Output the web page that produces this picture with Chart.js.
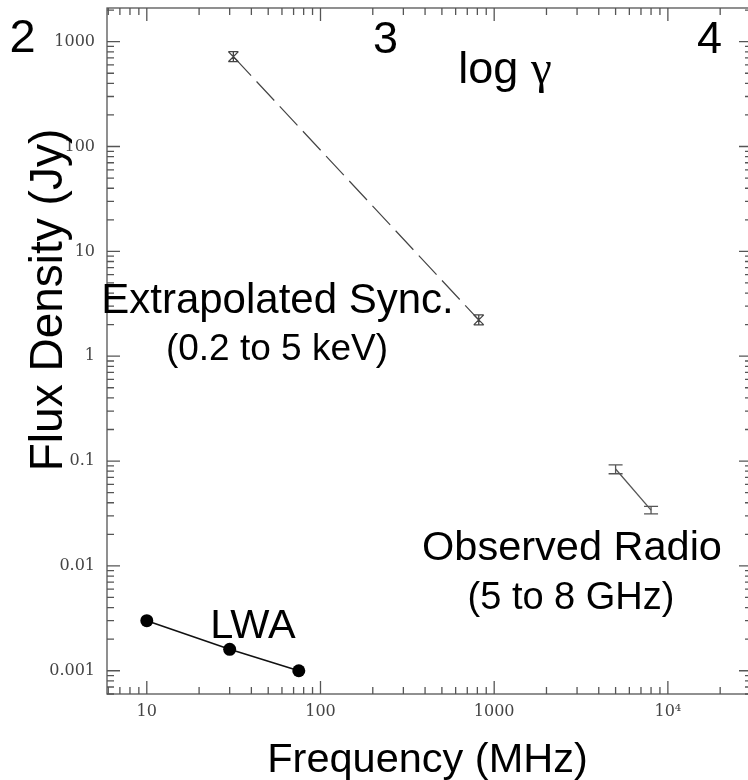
<!DOCTYPE html>
<html>
<head>
<meta charset="utf-8">
<script src="https://cdn.jsdelivr.net/npm/chart.js@4"></script>
<style>
  html, body { margin: 0; padding: 0; background: #fff; overflow: hidden; }
  #wrap { width: 748px; height: 780px; overflow: hidden; }
</style>
</head>
<body>
<div id="wrap"><canvas id="sed" width="760" height="780"></canvas></div>
<script>
// LWA (frequency MHz, flux Jy)
const lwaFreq = [10, 30, 75];
const lwaFlux = [0.003, 0.0016, 0.001];

// synchrotron extrapolated from 0.2-5 keV
const syncFreq = [31.5, 815];
const syncFlux = [720, 2.22];
const syncLow  = [644, 1.99];
const syncHigh = [803, 2.48];

// observed radio, 5-8 GHz
const radioFreq = [5000, 8000];
const radioFlux = [0.084, 0.034];
const radioLow  = [0.0757, 0.0313];
const radioHigh = [0.092, 0.0369];

const xTickValues = [10, 100, 1000, 10000];
const xTickLabels = ['10', '100', '1000', '10\u2074'];
const yTickValues = [0.001, 0.01, 0.1, 1, 10, 100, 1000];
const yTickLabels = ['0.001', '0.01', '0.1', '1', '10', '100', '1000'];

const xMin = 5.9, xMax = 30500;
const yMin = 0.000603, yMax = 2095;

const toXY = (xs, ys) => xs.map((x, i) => ({ x: x, y: ys[i] }));

// 1..9 x 10^n between min and max
function logTicks(min, max) {
  const out = [];
  for (let e = Math.floor(Math.log10(min)); e <= Math.ceil(Math.log10(max)); e++) {
    for (let k = 1; k <= 9; k++) {
      const v = +(k * Math.pow(10, e)).toPrecision(6);
      if (v >= min && v <= max) out.push({ value: v });
    }
  }
  return out;
}

function labelFor(v, values, labels) {
  const i = values.findIndex(t => Math.abs(v / t - 1) < 1e-6);
  return i < 0 ? '' : labels[i];
}

const isDecade = v => Math.abs(Math.log10(v) - Math.round(Math.log10(v))) < 1e-6;

// box with inward ticks on all four sides
const frame = {
  id: 'frame',
  beforeDatasetsDraw(chart) {
    const { ctx, chartArea: a, scales } = chart;
    ctx.save();
    ctx.strokeStyle = '#555';
    ctx.lineWidth = 1.3;
    ctx.strokeRect(a.left, a.top, a.right - a.left, a.bottom - a.top);
    ctx.beginPath();
    scales.x.ticks.forEach(t => {
      const px = scales.x.getPixelForValue(t.value);
      const len = isDecade(t.value) ? 13 : 7;
      ctx.moveTo(px, a.bottom); ctx.lineTo(px, a.bottom - len);
      ctx.moveTo(px, a.top); ctx.lineTo(px, a.top + len);
    });
    scales.y.ticks.forEach(t => {
      const py = scales.y.getPixelForValue(t.value);
      const len = isDecade(t.value) ? 13 : 7;
      ctx.moveTo(a.left, py); ctx.lineTo(a.left + len, py);
      ctx.moveTo(a.right, py); ctx.lineTo(a.right - len, py);
    });
    ctx.stroke();
    ctx.restore();
  }
};

function drawBars(ctx, xs, lo, hi, sx, sy, half, cross) {
  xs.forEach((f, i) => {
    const px = sx.getPixelForValue(f);
    const y1 = sy.getPixelForValue(lo[i]);
    const y2 = sy.getPixelForValue(hi[i]);
    ctx.beginPath();
    ctx.moveTo(px, y1); ctx.lineTo(px, y2);
    ctx.moveTo(px - half, y1); ctx.lineTo(px + half, y1);
    ctx.moveTo(px - half, y2); ctx.lineTo(px + half, y2);
    if (cross) {
      ctx.moveTo(px - half, y1); ctx.lineTo(px + half, y2);
      ctx.moveTo(px + half, y1); ctx.lineTo(px - half, y2);
    }
    ctx.stroke();
  });
}

const errorBars = {
  id: 'errorBars',
  afterDatasetsDraw(chart) {
    const { ctx, scales } = chart;
    ctx.save();
    ctx.lineWidth = 1.3;
    ctx.strokeStyle = '#444';
    drawBars(ctx, syncFreq, syncLow, syncHigh, scales.x, scales.y, 5, true);
    ctx.strokeStyle = '#555';
    drawBars(ctx, radioFreq, radioLow, radioHigh, scales.x, scales.y, 7, false);
    ctx.restore();
  }
};

const SANS = '"Liberation Sans", Arial, sans-serif';
const notes = [
  { text: '2', size: 47, x: 22.5, y: 52 },
  { text: '3', size: 45, x: 385.5, y: 53 },
  { text: '4', size: 45, x: 709.5, y: 53 },
  { text: 'Extrapolated Sync.', size: 42, x: 277.5, y: 313 },
  { text: '(0.2 to 5 keV)', size: 37, x: 277, y: 360 },
  { text: 'Observed Radio', size: 41.5, x: 572, y: 560 },
  { text: '(5 to 8 GHz)', size: 38, x: 571, y: 609 },
  { text: 'LWA', size: 41.5, x: 253, y: 638 },
  { text: 'Frequency (MHz)', size: 41.5, x: 427.5, y: 771.5 }
];

const annotations = {
  id: 'annotations',
  afterDraw(chart) {
    const ctx = chart.ctx;
    ctx.save();
    ctx.fillStyle = '#000';
    ctx.textBaseline = 'alphabetic';
    ctx.textAlign = 'center';
    notes.forEach(n => {
      ctx.font = n.size + 'px ' + SANS;
      ctx.fillText(n.text, n.x, n.y);
    });

    // log gamma, gamma in a serif face
    ctx.textAlign = 'left';
    ctx.font = '45px ' + SANS;
    const w1 = ctx.measureText('log ').width;
    ctx.font = '47px "Liberation Serif", serif';
    const w2 = ctx.measureText('\u03b3').width;
    const x0 = 505 - (w1 + w2) / 2;
    ctx.font = '45px ' + SANS;
    ctx.fillText('log ', x0, 83);
    ctx.font = '47px "Liberation Serif", serif';
    ctx.fillText('\u03b3', x0 + w1, 83);

    // vertical axis title
    ctx.translate(62, 300);
    ctx.rotate(-Math.PI / 2);
    ctx.textAlign = 'center';
    ctx.font = '46px ' + SANS;
    ctx.fillText('Flux Density (Jy)', 0, 0);
    ctx.restore();
  }
};

const tickFont = { family: '"DejaVu Serif", serif', size: 16 };

new Chart(document.getElementById('sed'), {
  type: 'scatter',
  data: {
    datasets: [
      {
        label: 'LWA',
        data: toXY(lwaFreq, lwaFlux),
        showLine: true,
        borderColor: '#111',
        borderWidth: 1.6,
        pointRadius: 6.5,
        pointBackgroundColor: '#000',
        pointBorderColor: '#000',
        pointBorderWidth: 0
      },
      {
        label: 'Extrapolated Sync.',
        data: toXY(syncFreq, syncFlux),
        showLine: true,
        borderColor: '#444',
        borderWidth: 1.2,
        borderDash: [26, 8],
        pointRadius: 0
      },
      {
        label: 'Observed Radio',
        data: toXY(radioFreq, radioFlux),
        showLine: true,
        borderColor: '#555',
        borderWidth: 1.3,
        pointRadius: 0
      }
    ]
  },
  options: {
    responsive: false,
    animation: false,
    layout: { padding: { top: 8, right: 8, left: 0, bottom: 0 } },
    plugins: {
      legend: { display: false },
      tooltip: { enabled: false }
    },
    scales: {
      x: {
        type: 'logarithmic',
        position: 'bottom',
        min: xMin,
        max: xMax,
        grid: { display: false, drawTicks: false },
        border: { display: false },
        afterBuildTicks: s => { s.ticks = logTicks(s.min, s.max); },
        afterFit: s => { s.height = 86; s.paddingLeft = 0; s.paddingRight = 0; },
        ticks: {
          autoSkip: false,
          maxRotation: 0,
          padding: 8,
          color: '#444',
          font: tickFont,
          callback: v => labelFor(v, xTickValues, xTickLabels)
        }
      },
      y: {
        type: 'logarithmic',
        position: 'left',
        min: yMin,
        max: yMax,
        grid: { display: false, drawTicks: false },
        border: { display: false },
        afterBuildTicks: s => { s.ticks = logTicks(s.min, s.max); },
        afterFit: s => { s.width = 107; s.paddingTop = 0; s.paddingBottom = 0; },
        ticks: {
          autoSkip: false,
          padding: 12,
          color: '#444',
          font: tickFont,
          callback: v => labelFor(v, yTickValues, yTickLabels)
        }
      }
    }
  },
  plugins: [frame, errorBars, annotations]
});
</script>
</body>
</html>
